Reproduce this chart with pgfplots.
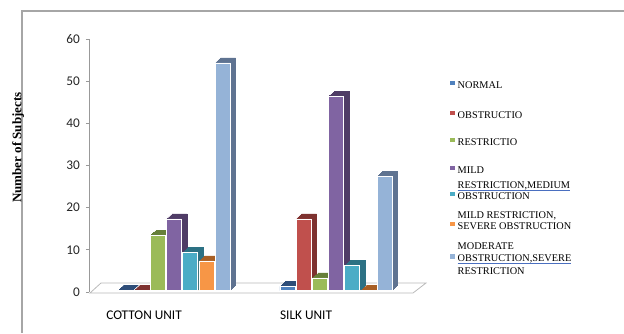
\documentclass[border=0pt]{standalone}
\usepackage{pgfplots}
\pgfplotsset{compat=1.18}
\usepackage{fontspec}
\setmainfont{Liberation Serif}
\newfontfamily\carlito{Carlito}
\definecolor{c1}{HTML}{4F81BD}\definecolor{d1}{HTML}{2E4D78}
\definecolor{c2}{HTML}{C0504D}\definecolor{d2}{HTML}{7E3230}
\definecolor{c3}{HTML}{9BBB59}\definecolor{d3}{HTML}{67803A}
\definecolor{c4}{HTML}{8064A2}\definecolor{d4}{HTML}{4F3C66}
\definecolor{c5}{HTML}{4BACC6}\definecolor{d5}{HTML}{2C7184}
\definecolor{c6}{HTML}{F79646}\definecolor{d6}{HTML}{A85F25}
\definecolor{c7}{HTML}{95B3D7}\definecolor{d7}{HTML}{5F7391}
\definecolor{framegray}{HTML}{A6A6A6}
\definecolor{spellblue}{HTML}{4A6FC0}
\pgfplotsset{
  front/.style={ybar, bar width=15pt, draw=white, line width=0.6pt, fill=#1, yshift=1.5pt},
  back/.style={ybar, bar width=15pt, draw=#1, line width=0.4pt, fill=#1, forget plot},
}
\newcommand{\lt}[2]{\rule{0pt}{#1pt}\smash{#2}}
\newcommand{\ul}[1]{{\setbox0\hbox{#1}\rlap{\textcolor{spellblue}{\rule[-2.2pt]{\wd0}{0.7pt}}}\box0}}
\newcommand{\extrude}[3]{%
  \addplot[back=#1, bar shift=#2, xshift=5.5pt, yshift=6.5pt] coordinates {#3};
  \addplot[back=#1, bar shift=#2, xshift=4.4pt, yshift=5.5pt] coordinates {#3};
  \addplot[back=#1, bar shift=#2, xshift=3.3pt, yshift=4.5pt] coordinates {#3};
  \addplot[back=#1, bar shift=#2, xshift=2.2pt, yshift=3.5pt] coordinates {#3};
  \addplot[back=#1, bar shift=#2, xshift=1.1pt, yshift=2.5pt] coordinates {#3};
}
\begin{document}
\begin{tikzpicture}
\useasboundingbox (0,0) rectangle (624pt,333pt);
% frame
\draw[framegray, line width=1.3pt] (22pt,0pt) -- (22pt,322pt) -- (624pt,322pt);
% floor
\draw[gray!55, line width=0.8pt] (90pt,40pt) -- (413pt,40pt) -- (426pt,50pt) -- (101pt,50pt) -- cycle;
\begin{axis}[
  at={(89pt,41pt)}, anchor=south west,
  scale only axis, width=341pt, height=253pt,
  xmin=-0.525, xmax=1.58, ymin=0, ymax=60,
  clip=false,
  axis lines*=left,
  x axis line style={draw=none},
  y axis line style={draw=gray!80, line width=0.8pt},
  xtick={0,1}, xticklabels={COTTON UNIT, SILK UNIT},
  xtick style={draw=none},
  xticklabel style={font=\carlito\fontsize{13.3}{15}\selectfont, xshift=-30pt, anchor=base, yshift=-24pt},
  ytick={0,10,...,60},
  ytick style={draw=gray!80, line width=0.8pt},
  tick align=outside, major tick length=3pt,
  yticklabel style={font=\carlito\fontsize{13.3}{15}\selectfont, xshift=-2.5pt, text=black!85},
  /pgf/number format/assume math mode=true,
  ylabel={Number of Subjects},
  ylabel style={at={(-0.208,0.571)}, anchor=center, font=\bfseries\fontsize{13}{15}\selectfont},
  legend image code/.code={\fill[#1, draw=none] (0pt,1.5pt) rectangle (4.5pt,6pt);},
  legend cell align=left,
  legend style={draw=none, fill=none, at={(1.0587,0.8387)}, anchor=north west,
    font=\fontsize{10.3}{12}\selectfont, row sep=-1.5pt, column sep=3pt, inner sep=0pt,
    nodes={inner sep=0pt, anchor=base west}},
]
% NORMAL
\extrude{d1}{-48.6pt}{(0,0) (1,1)}
\addplot[front=c1, bar shift=-48.6pt] coordinates {(0,0) (1,1)};
\addlegendentry{\lt{8}{NORMAL}}
% OBSTRUCTIO
\extrude{d2}{-32.4pt}{(0,0) (1,17)}
\addplot[front=c2, bar shift=-32.4pt] coordinates {(0,0) (1,17)};
\addlegendentry{\lt{30}{OBSTRUCTIO}}
% RESTRICTIO
\extrude{d3}{-16.2pt}{(0,13) (1,3)}
\addplot[front=c3, bar shift=-16.2pt] coordinates {(0,13) (1,3)};
\addlegendentry{\lt{27}{RESTRICTIO}}
% MILD RESTRICTION, MEDIUM OBSTRUCTION
\extrude{d4}{0pt}{(0,17) (1,46)}
\addplot[front=c4, bar shift=0pt] coordinates {(0,17) (1,46)};
\addlegendentry{\lt{28}{MILD}}
\addlegendimage{empty legend}
\addlegendentry{\lt{15}{\ul{RESTRICTION,MEDIUM}}}
% teal
\extrude{d5}{16.2pt}{(0,9) (1,6)}
\addplot[front=c5, bar shift=16.2pt] coordinates {(0,9) (1,6)};
\addlegendentry{\lt{11}{OBSTRUCTION}}
% MILD RESTRICTION, SEVERE OBSTRUCTION
\addlegendimage{empty legend}
\addlegendentry{\lt{19}{MILD RESTRICTION,}}
\extrude{d6}{32.4pt}{(0,7) (1,0)}
\addplot[front=c6, bar shift=32.4pt] coordinates {(0,7) (1,0)};
\addlegendentry{\lt{11}{SEVERE OBSTRUCTION}}
% MODERATE OBSTRUCTION, SEVERE RESTRICTION
\addlegendimage{empty legend}
\addlegendentry{\lt{20}{MODERATE}}
\extrude{d7}{48.6pt}{(0,54) (1,27)}
\addplot[front=c7, bar shift=48.6pt] coordinates {(0,54) (1,27)};
\addlegendentry{\lt{12.5}{\ul{OBSTRUCTION,SEVERE}}}
\addlegendimage{empty legend}
\addlegendentry{\lt{12.5}{RESTRICTION}}
\end{axis}
\end{tikzpicture}
\end{document}
